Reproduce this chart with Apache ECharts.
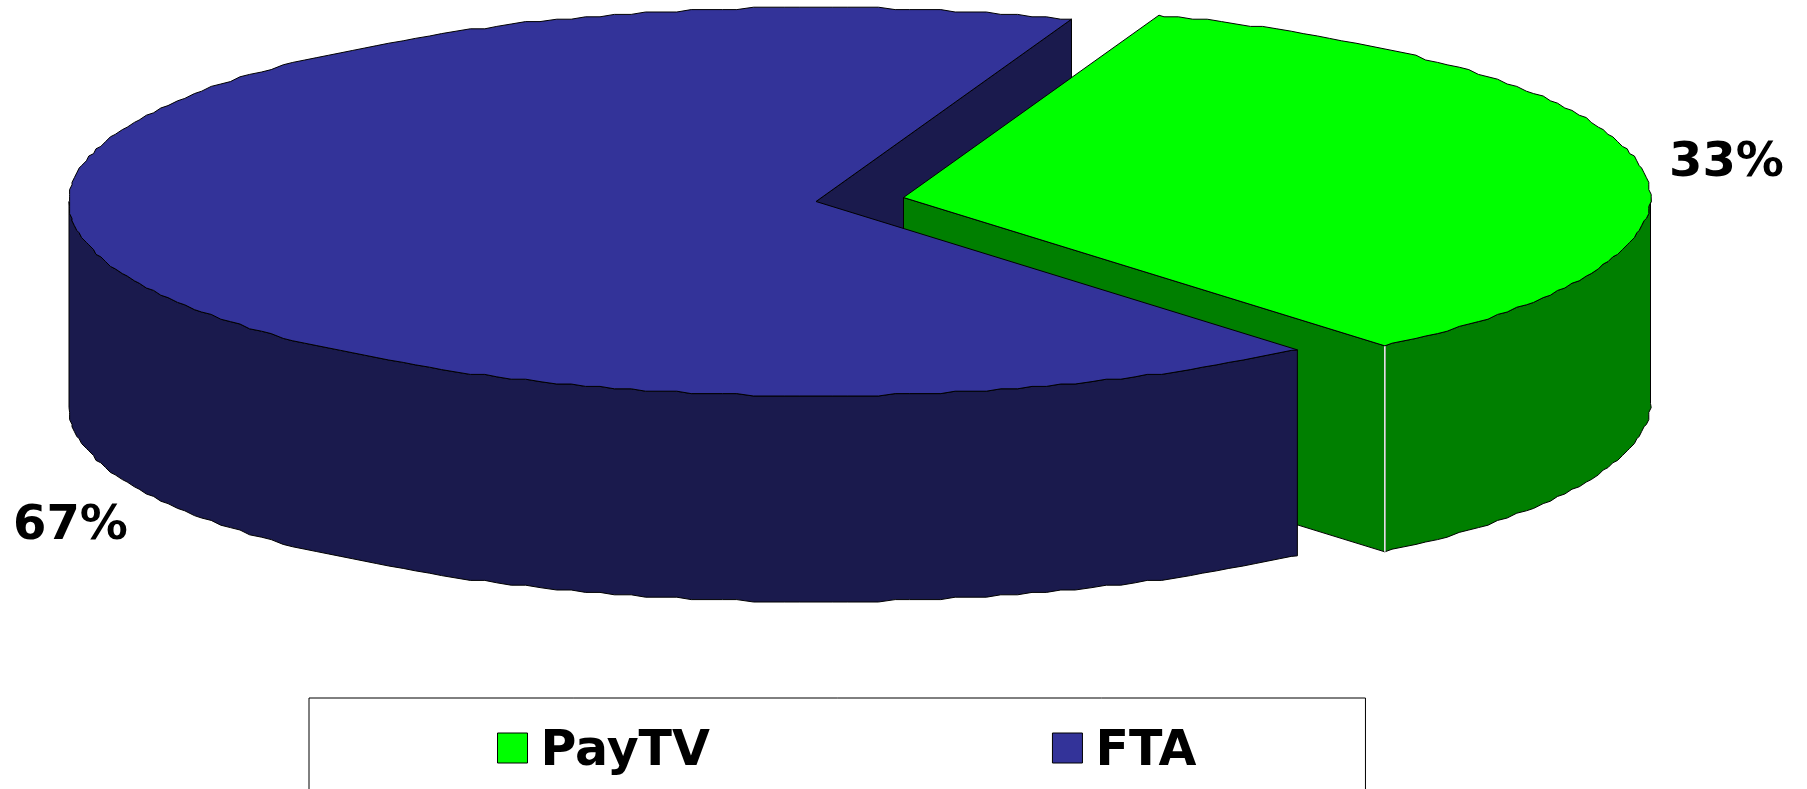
<!DOCTYPE html>
<html>
<head>
<meta charset="utf-8">
<style>
html, body { margin: 0; padding: 0; background: #fff; overflow: hidden; }
#chart { width: 1807px; height: 789px; }
</style>
<script src="https://cdn.jsdelivr.net/npm/echarts@6/dist/echarts.min.js"></script>
</head>
<body>
<div id="chart"></div>
<script>
var categories = ['PayTV', 'FTA'];
var shares = [33.3, 66.7];
var topColors = ['#00ff00', '#333399'];
var sideColors = ['#007f00', '#1a1a4d'];

// pie shape on the page
var total = shares[0] + shares[1];
var startAngle = 70;
var rx = 747, ry = 194, depth = 206;
var centers = [[903.5, 197.5], [816, 201.5]];
var labelPos = [[1669, 140], [13, 503]];
var grid = 2.4; // the original outline is stepped, not smooth
var step = 1.2;

function snap(v) {
    return Math.round(v / grid) * grid;
}

function rimPoint(c, deg) {
    var t = deg * Math.PI / 180;
    return [c[0] + rx * Math.cos(t), c[1] - ry * Math.sin(t)];
}

// points of the rim going clockwise from angle a down to angle b (degrees, math style)
function arc(c, a, b) {
    var pts = [rimPoint(c, a)];
    var k = Math.floor(a / step);
    if (k * step === a) {
        k--;
    }
    for (; k * step > b; k--) {
        var p = rimPoint(c, k * step);
        pts.push([snap(p[0]), snap(p[1])]);
    }
    pts.push(rimPoint(c, b));
    return pts;
}

function down(pts) {
    return pts.map(function (p) {
        return [p[0], p[1] + depth];
    }).reverse();
}

function poly(pts, fill, z2) {
    return {
        type: 'polygon',
        z2: z2,
        shape: { points: pts },
        style: { fill: fill, stroke: '#000', lineWidth: 1 }
    };
}

function sliceAngles(index) {
    var a = startAngle;
    for (var i = 0; i < index; i++) {
        a -= shares[i] / total * 360;
    }
    return [a, a - shares[index] / total * 360];
}

function renderSlice(params, api) {
    var i = params.seriesIndex;
    var value = api.value(0);
    var c = centers[i];
    var ang = sliceAngles(i);
    var rim = arc(c, ang[0], ang[1]);
    var last = rim[rim.length - 1];
    var children = [];
    var z = i === 0 ? 1 : 3;

    // outer wall, only the part of the rim facing the viewer
    if (i === 0) {
        var front = arc(c, 0, ang[1]);
        children.push(poly(front.concat(down(front)), sideColors[i], z));
        // cut face running from the middle to the tip
        children.push(poly([c, last, [last[0], last[1] + depth], [c[0], c[1] + depth]], sideColors[i], z));
        children.push({
            type: 'line',
            z2: z + 1,
            shape: { x1: last[0], y1: last[1], x2: last[0], y2: last[1] + depth },
            style: { stroke: '#f0f0f0', lineWidth: 1.6 }
        });
    } else {
        var frontB = arc(c, ang[0], -180);
        children.push(poly(frontB.concat(down(frontB)), sideColors[i], z));
        // inner face seen through the gap, sits behind the other slice
        children.push(poly([c, last, [last[0], last[1] + depth], [c[0], c[1] + depth]], sideColors[i], 0));
    }

    children.push(poly([c].concat(rim), topColors[i], z + 1));

    children.push({
        type: 'text',
        z2: 10,
        style: {
            text: Math.round(value / total * 100) + '%',
            x: labelPos[i][0],
            y: labelPos[i][1],
            font: 'bold 48px "DejaVu Sans"',
            fill: '#000'
        }
    });

    return { type: 'group', children: children };
}

function sliceSeries(i) {
    return {
        name: categories[i],
        type: 'custom',
        coordinateSystem: 'none',
        silent: true,
        itemStyle: { color: topColors[i] },
        renderItem: renderSlice,
        data: [shares[i]]
    };
}

var option = {
    animation: false,
    backgroundColor: '#fff',
    legend: {
        data: categories.map(function (name, i) {
            // empty move at the bottom so the swatch sits above the text middle
            return { name: name, icon: 'path://M0 0H30V30H0Z M0 39L0 39', itemStyle: { color: topColors[i], borderColor: '#000', borderWidth: 1 } };
        }),
        left: 309,
        top: 698,
        orient: 'horizontal',
        padding: [30, 169, 120, 188],
        borderColor: '#000',
        borderWidth: 1,
        itemWidth: 30,
        itemHeight: 39,
        itemGap: 342,
        selectedMode: false,
        textStyle: {
            fontFamily: 'DejaVu Sans',
            fontWeight: 'bold',
            fontSize: 49,
            color: '#000',
            padding: [0, 0, 0, 8]
        }
    },
    series: [sliceSeries(0), sliceSeries(1)]
};

var chart = echarts.init(document.getElementById('chart'));
chart.setOption(option);
</script>
</body>
</html>
